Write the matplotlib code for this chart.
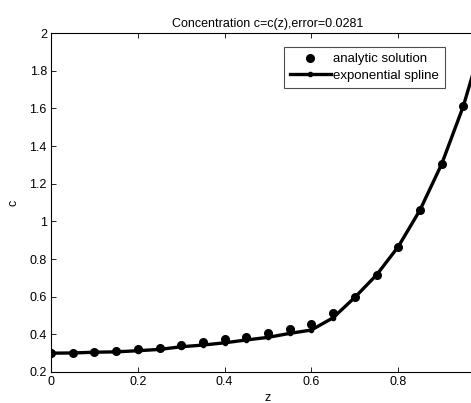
import matplotlib
matplotlib.use("Agg")
import matplotlib.pyplot as plt

plt.rcParams['font.family'] = ['Liberation Sans', 'DejaVu Sans']

z = [0.0, 0.05, 0.10, 0.15, 0.20, 0.25, 0.30, 0.35, 0.40, 0.45, 0.50,
     0.55, 0.60, 0.65, 0.70, 0.75, 0.80, 0.85, 0.90, 0.95, 1.0]
c_analytic = [0.300, 0.302, 0.308, 0.313, 0.320, 0.329, 0.342, 0.357, 0.373,
              0.387, 0.409, 0.427, 0.455, 0.511, 0.596, 0.715, 0.865, 1.059,
              1.303, 1.611, 2.000]
c_spline = [0.300, 0.301, 0.305, 0.307, 0.313, 0.320, 0.334, 0.343, 0.355,
            0.370, 0.384, 0.405, 0.423, 0.488, 0.596, 0.715, 0.865, 1.059,
            1.303, 1.611, 2.000]

title = "Concentration c=c(z),error=0.0281"
xticks = [0, 0.2, 0.4, 0.6, 0.8, 1.0]
yticks = [0.2, 0.4, 0.6, 0.8, 1.0, 1.2, 1.4, 1.6, 1.8, 2.0]
ytick_labels = ['0.2', '0.4', '0.6', '0.8', '1', '1.2', '1.4', '1.6', '1.8', '2']
xtick_labels = ['0', '0.2', '0.4', '0.6', '0.8', '']

fig = plt.figure(figsize=(4.71, 4.03), dpi=100)
ax = fig.add_axes([51/471, 1-372/403, 434/471, 339/403])

ax.plot(z, c_analytic, 'o', color='black', markersize=5.5, label='analytic solution')
ax.plot(z, c_spline, '.-', color='black', linewidth=2.4, markersize=6,
        label='exponential spline')

ax.set_xlim(0, 1)
ax.set_ylim(0.2, 2)
ax.set_xticks(xticks)
ax.set_xticklabels(xtick_labels)
ax.set_yticks(yticks)
ax.set_yticklabels(ytick_labels)
ax.tick_params(direction='in', top=True, right=True, labelsize=9, length=3.5,
               width=0.6, pad=3, colors='black')
for s in ax.spines.values():
    s.set_linewidth(0.8)
ax.set_title(title, fontsize=9, pad=4)
ax.set_xlabel('z', fontsize=9, labelpad=3)
ax.set_ylabel('c', fontsize=9, labelpad=7)

leg = ax.legend(loc='upper left', bbox_to_anchor=(284/471, 1-47/403),
                bbox_transform=fig.transFigure, borderaxespad=0, fontsize=9.5,
                frameon=True, fancybox=False, handlelength=3.1,
                handletextpad=0.15, borderpad=0.45, labelspacing=0.35)
leg.get_frame().set_edgecolor('#222222')
leg.get_frame().set_linewidth(0.8)

fig.savefig('out.png', dpi=100)
